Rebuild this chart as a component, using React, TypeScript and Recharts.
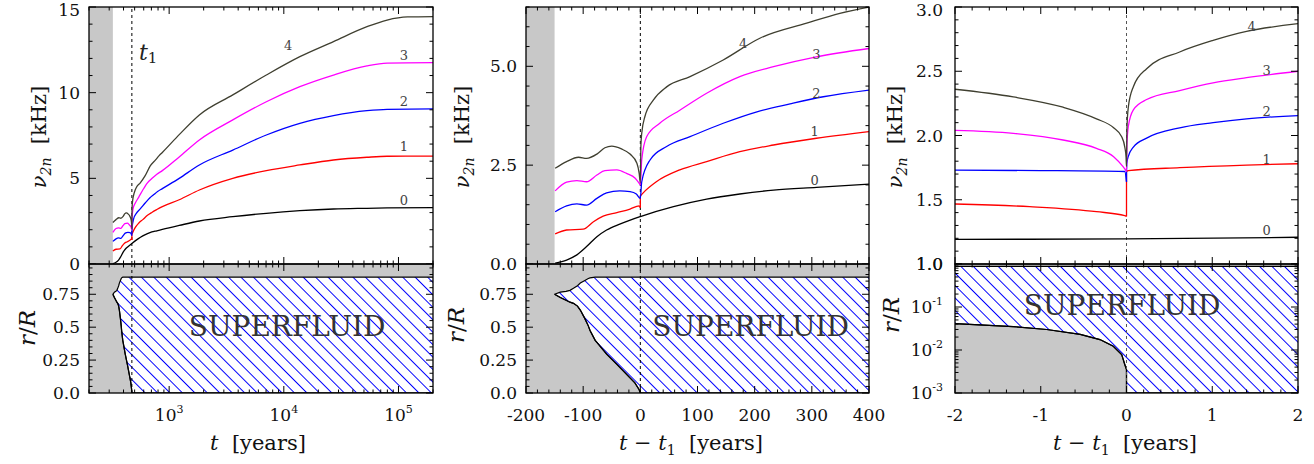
import {
  ComposedChart,
  Line,
  Area,
  XAxis,
  YAxis,
  CartesianGrid,
  ReferenceArea,
  ReferenceLine,
  ReferenceDot,
} from "recharts";

const SERIF = '"DejaVu Serif", serif';
const COLORS = ["#000000", "#ff0000", "#0000ff", "#ff00ff", "#3f3f30"];
const GRAY = "#c8c8c8";

// ---------- panel 1: nu_2n vs t [years], log axis ----------
const p1Mode0 = [[323, 0.02], [344, 0.1], [362, 0.23], [379, 0.44], [397, 0.69], [414, 0.86], [437, 1.01], [473, 1.2], [531, 1.45], [589, 1.64], [647, 1.77], [706, 1.87], [781, 1.94], [872, 2.02], [1224, 2.25], [1834, 2.51], [3590, 2.76], [7040, 2.96], [13800, 3.11], [27100, 3.21], [53100, 3.25], [79600, 3.27], [200000, 3.29]];
const p1Mode1 = [[323, 0.76], [344, 0.86], [373, 0.88], [391, 1.07], [408, 1.21], [432, 1.3], [455, 1.39], [471, 1.47], [473, 1.42], [473, 1.72], [478, 1.8], [501, 2.08], [542, 2.38], [589, 2.59], [647, 2.84], [706, 3.01], [781, 3.18], [872, 3.35], [1224, 3.75], [1834, 4.32], [3590, 5.0], [7040, 5.45], [13800, 5.78], [27100, 6.07], [53100, 6.23], [79600, 6.29], [200000, 6.3]];
const p1Mode2 = [[323, 1.32], [344, 1.47], [362, 1.52], [379, 1.49], [397, 1.66], [414, 1.8], [437, 1.85], [455, 1.83], [466, 1.77], [473, 1.66], [475, 2.08], [490, 2.63], [519, 2.97], [560, 3.22], [618, 3.56], [677, 3.85], [735, 4.05], [793, 4.23], [872, 4.4], [1224, 5.0], [1834, 5.78], [3590, 6.65], [7040, 7.53], [13800, 8.21], [27100, 8.66], [53100, 8.95], [79600, 9.03], [200000, 9.05]];
const p1Mode3 = [[323, 1.85], [344, 2.07], [362, 2.11], [379, 2.08], [397, 2.25], [411, 2.36], [432, 2.38], [449, 2.29], [464, 2.17], [471, 2.04], [473, 2.0], [475, 2.63], [484, 3.22], [507, 3.56], [542, 3.89], [589, 4.32], [647, 4.74], [706, 4.99], [781, 5.24], [872, 5.45], [1224, 6.25], [1834, 7.24], [3590, 8.41], [7040, 9.47], [13800, 10.35], [27100, 11.03], [53100, 11.56], [79600, 11.72], [200000, 11.75]];
const p1Mode4 = [[323, 2.42], [344, 2.59], [365, 2.7], [379, 2.67], [397, 2.78], [411, 2.94], [423, 2.98], [440, 2.91], [455, 2.78], [467, 2.55], [471, 2.29], [473, 2.05], [474, 3.0], [475, 3.3], [481, 3.73], [496, 4.15], [519, 4.48], [560, 4.74], [618, 5.16], [682, 5.71], [764, 6.09], [822, 6.34], [872, 6.51], [1224, 7.55], [1834, 8.7], [3590, 9.87], [7040, 11.03], [13800, 12.1], [27100, 12.98], [53100, 13.85], [79600, 14.24], [120000, 14.42], [200000, 14.44]];
const p1Labels = [[111500, 3.74, "0"], [111500, 6.89, "1"], [111500, 9.47, "2"], [111500, 12.2, "3"], [10900, 12.78, "4"]];

// ---------- panel 2: nu_2n vs t - t1 ----------
const p2Mode0 = [[-149, 0.02], [-129, 0.1], [-111, 0.23], [-94, 0.44], [-76, 0.69], [-59, 0.86], [-36, 1.01], [0, 1.2], [58, 1.45], [116, 1.64], [174, 1.77], [233, 1.87], [308, 1.94], [400, 2.02]];
const p2Mode1 = [[-149, 0.76], [-129, 0.86], [-100, 0.88], [-82, 1.07], [-65, 1.21], [-41, 1.3], [-18, 1.39], [-2, 1.47], [0, 1.42], [0, 1.72], [5, 1.8], [28, 2.08], [69, 2.38], [116, 2.59], [174, 2.84], [233, 3.01], [308, 3.18], [400, 3.35]];
const p2Mode2 = [[-149, 1.32], [-129, 1.47], [-111, 1.52], [-94, 1.49], [-76, 1.66], [-59, 1.8], [-36, 1.85], [-18, 1.83], [-7, 1.77], [0, 1.66], [2.4, 2.08], [17, 2.63], [46, 2.97], [87, 3.22], [145, 3.56], [204, 3.85], [262, 4.05], [320, 4.23], [400, 4.4]];
const p2Mode3 = [[-149, 1.85], [-129, 2.07], [-111, 2.11], [-94, 2.08], [-76, 2.25], [-62, 2.36], [-41, 2.38], [-24, 2.29], [-9, 2.17], [-2, 2.04], [0, 2.0], [2.4, 2.63], [11, 3.22], [34, 3.56], [69, 3.89], [116, 4.32], [174, 4.74], [233, 4.99], [308, 5.24], [400, 5.45]];
const p2Mode4 = [[-149, 2.42], [-129, 2.59], [-108, 2.7], [-94, 2.67], [-76, 2.78], [-62, 2.94], [-50, 2.98], [-33, 2.91], [-18, 2.78], [-6, 2.55], [-2, 2.29], [0, 2.05], [1, 3.0], [2.4, 3.3], [8, 3.73], [23, 4.15], [46, 4.48], [87, 4.74], [145, 5.16], [209, 5.71], [291, 6.09], [349, 6.34], [400, 6.5]];
const p2Labels = [[305, 2.12, "0"], [305, 3.35, "1"], [308, 4.32, "2"], [308, 5.3, "3"], [180, 5.58, "4"]];

// ---------- panel 3: zoom around t1 ----------
const p3Mode0 = [[-2, 1.192], [0, 1.195], [2, 1.208]];
const p3Mode1 = [[-2, 1.467], [-1.13, 1.446], [-0.35, 1.407], [-0.02, 1.376], [0, 1.37], [0, 1.72], [0.02, 1.726], [0.62, 1.75], [1.4, 1.77], [2, 1.78]];
const p3Mode2 = [[-2, 1.73], [-1, 1.727], [-0.02, 1.72], [0, 1.64], [0, 1.72], [0.005, 1.79], [0.02, 1.835], [0.08, 1.91], [0.235, 1.98], [0.62, 2.06], [1.01, 2.1], [1.4, 2.13], [2, 2.155]];
const p3Mode3 = [[-2, 2.04], [-1.32, 2.017], [-0.74, 1.965], [-0.35, 1.9], [-0.15, 1.835], [-0.04, 1.757], [-0.01, 1.73], [0, 1.72], [0.005, 1.93], [0.021, 2.07], [0.08, 2.2], [0.235, 2.28], [0.62, 2.35], [1.01, 2.41], [1.4, 2.45], [2, 2.5]];
const p3Mode4 = [[-2, 2.36], [-1.32, 2.3], [-0.74, 2.22], [-0.35, 2.13], [-0.15, 2.06], [-0.056, 1.99], [-0.02, 1.91], [-0.005, 1.83], [0, 1.76], [0.005, 2.05], [0.021, 2.22], [0.08, 2.38], [0.235, 2.52], [0.62, 2.65], [1.01, 2.74], [1.4, 2.81], [2, 2.87]];
const p3Labels = [[1.635, 1.265, "0"], [1.635, 1.815, "1"], [1.635, 2.185, "2"], [1.635, 2.51, "3"], [1.46, 2.85, "4"]];

// ---------- superfluid region r/R ----------
const p1SfT = [323, 333, 343, 350, 356, 363, 368, 376, 382, 385, 394, 397, 414, 432, 449, 463.5, 471, 473, 200000];
const sfDt = [-150, -140, -130, -123, -117, -110, -105, -97, -91, -88, -79, -76, -59, -41, -24, -9.5, -2, 0, 400];
const sfLow = [0.75, 0.725, 0.705, 0.69, 0.681, 0.66, 0.63, 0.565, 0.51, 0.475, 0.4, 0.385, 0.295, 0.218, 0.141, 0.077, 0.025, 0, 0];
const sfHigh = [0.75, 0.766, 0.772, 0.78, 0.795, 0.815, 0.835, 0.855, 0.87, 0.875, 0.88, 0.88, 0.88, 0.88, 0.88, 0.88, 0.88, 0.88, 0.88];
const p3SfDt = [-2, -1.32, -0.93, -0.54, -0.31, -0.154, -0.056, -0.02, 0, 0, 2];
const p3SfLow = [0.041, 0.035, 0.03, 0.023, 0.0175, 0.0122, 0.0078, 0.0046, 0.0035, 0.001, 0.001];
const p3SfHigh = [0.88, 0.88, 0.88, 0.88, 0.88, 0.88, 0.88, 0.88, 0.88, 0.88, 0.88];

// ---------- ticks ----------
const steps = (a: number, b: number, s: number) => {
  const out: number[] = [];
  for (let i = 0; a + i * s <= b + 1e-9; i++) out.push(+(a + i * s).toFixed(6));
  return out;
};
const p1XTicks = [200, 300, 400, 500, 600, 700, 800, 900, 1000, 2000, 3000, 4000, 5000, 6000, 7000, 8000, 9000, 10000, 20000, 30000, 40000, 50000, 60000, 70000, 80000, 90000, 100000, 200000];
const p1XMajors = [1000, 10000, 100000];
const p1XLabels = ["10^3", "10^4", "10^5"];
const p1YTicks = steps(0, 15, 1);
const p1YMajors = [0, 5, 10, 15];
const p1YLabels = ["0", "5", "10", "15"];
const p2XTicks = steps(-200, 400, 20);
const p2XMajors = [-200, -100, 0, 100, 200, 300, 400];
const p2XLabels = ["-200", "-100", "0", "100", "200", "300", "400"];
const p2YTicks = steps(0, 6.5, 0.5);
const p2YMajors = [0, 2.5, 5];
const p2YLabels = ["0.0", "2.5", "5.0"];
const p3XTicks = steps(-2, 2, 0.2);
const p3XMajors = [-2, -1, 0, 1, 2];
const p3XLabels = ["-2", "-1", "0", "1", "2"];
const p3YTicks = steps(1, 3, 0.1);
const p3YMajors = [1, 1.5, 2, 2.5, 3];
const p3YLabels = ["1.0", "1.5", "2.0", "2.5", "3.0"];
const sfYTicks = steps(0, 0.95, 0.05);
const sfYMajors = [0, 0.25, 0.5, 0.75];
const sfYLabels = ["0.0", "0.25", "0.5", "0.75"];
const p3SfYTicks = [0.001, 0.002, 0.003, 0.004, 0.005, 0.006, 0.007, 0.008, 0.009, 0.01, 0.02, 0.03, 0.04, 0.05, 0.06, 0.07, 0.08, 0.09, 0.1, 0.2, 0.3, 0.4, 0.5, 0.6, 0.7, 0.8, 0.9, 1];
const p3SfYMajors = [1, 0.1, 0.01, 0.001];
const p3SfYLabels = ["1.0", "10^-1", "10^-2", "10^-3"];

// column geometry (page px)
const cols = [
  { left: 0, width: 445, plotLeft: 89, plotW: 344, gap: 9 },
  { left: 440, width: 460, plotLeft: 526, plotW: 343, gap: 9 },
  { left: 880, width: 434, plotLeft: 955, plotW: 343, gap: 12 },
];
const YW = 60;

const findMajor = (majors: number[], v: number) =>
  majors.findIndex((m) => Math.abs(m - v) <= 1e-6 * Math.abs(m) + 1e-9);

function TickText({ x, y, anchor, text }: any) {
  const [base, sup] = text.split("^");
  return (
    <text x={x} y={y} textAnchor={anchor} fontFamily={SERIF} fontSize={17} fill="#111">
      {base}
      {sup && (
        <tspan dy={-8} fontSize={11}>
          {sup}
        </tspan>
      )}
    </text>
  );
}

function XTick({ x, y, payload, edge, majors, labels }: any) {
  const i = findMajor(majors, payload.value);
  const len = i >= 0 ? 7 : 3.5;
  return (
    <g>
      <line x1={x} y1={y} x2={x} y2={y - len} stroke="#000" strokeWidth={1} />
      <line x1={x} y1={edge} x2={x} y2={edge + len} stroke="#000" strokeWidth={1} />
      {i >= 0 && labels && labels[i] && <TickText x={x} y={y + 28} anchor="middle" text={labels[i]} />}
    </g>
  );
}

function YTick({ x, y, payload, width, majors, labels, gap, minBase }: any) {
  const i = findMajor(majors, payload.value);
  const len = i >= 0 ? 7 : 3.5;
  return (
    <g>
      <line x1={x} y1={y} x2={x + len} y2={y} stroke="#000" strokeWidth={1} />
      <line x1={x + width} y1={y} x2={x + width - len} y2={y} stroke="#000" strokeWidth={1} />
      {i >= 0 && <TickText x={x - gap} y={Math.max(y + 6, minBase || 0)} anchor="end" text={labels[i]} />}
    </g>
  );
}

const toPts = (c: number[][]) => c.map(([x, y]) => ({ x, y }));

// split a curve where x repeats (a jump) so each run can be smoothed
function runsOf(cv: number[][]) {
  const runs: number[][][] = [[]];
  cv.forEach((p, i) => {
    if (i > 0 && p[0] === cv[i - 1][0]) runs.push([]);
    runs[runs.length - 1].push(p);
  });
  return runs;
}

function curveLines(cv: number[][], color: string, key: string) {
  const runs = runsOf(cv);
  const out: any[] = [];
  runs.forEach((run, k) => {
    out.push(
      <Line key={key + "r" + k} data={toPts(run)} dataKey="y" type="monotone" stroke={color} strokeWidth={1.3} dot={false} activeDot={false} isAnimationActive={false} />
    );
    if (k > 0) {
      const jump = [runs[k - 1][runs[k - 1].length - 1], run[0]];
      out.push(
        <Line key={key + "j" + k} data={toPts(jump)} dataKey="y" type="linear" stroke={color} strokeWidth={1.3} dot={false} activeDot={false} isAnimationActive={false} />
      );
    }
  });
  return out;
}

function FreqPanel({ col, xScale, xDomain, xTicks, xMajors, yDomain, yTicks, yMajors, yLabels, curves, labels, gray, t1, dash }: any) {
  const c = cols[col];
  const ml = c.plotLeft - c.left - YW;
  const mr = c.width - (c.plotLeft - c.left) - c.plotW;
  return (
    <div style={{ position: "absolute", left: c.left, top: -10 }}>
      <ComposedChart width={c.width} height={290} margin={{ top: 17, right: mr, bottom: 0, left: ml }}>
        <XAxis
          dataKey="x"
          type="number"
          scale={xScale}
          domain={xDomain}
          ticks={xTicks}
          interval={0}
          allowDataOverflow
          height={16}
          axisLine={false}
          tickLine={false}
          tickSize={0}
          tickMargin={0}
          tick={(p: any) => <XTick {...p} edge={17} majors={xMajors} labels={null} />}
        />
        <YAxis
          type="number"
          domain={yDomain}
          ticks={yTicks}
          interval={0}
          allowDataOverflow
          width={YW}
          axisLine={false}
          tickLine={false}
          tickSize={0}
          tickMargin={0}
          tick={(p: any) => <YTick {...p} width={c.plotW} majors={yMajors} labels={yLabels} gap={c.gap} minBase={26} />}
        />
        {gray && (
          <ReferenceArea x1={gray[0]} x2={gray[1]} y1={yDomain[0]} y2={yDomain[1]} fill={GRAY} fillOpacity={1} stroke="none" />
        )}
        <ReferenceLine x={t1} stroke={dash} strokeDasharray="3 3" strokeWidth={1} />
        {curves.flatMap((cv: number[][], i: number) => curveLines(cv, COLORS[i], "c" + i))}
        {labels.map(([x, y, t]: any, i: number) => (
          <ReferenceDot
            key={"l" + i}
            x={x}
            y={y}
            r={0}
            fill="none"
            stroke="none"
            label={{ value: t, position: "center", fill: "#444", fontSize: 13, fontFamily: SERIF }}
          />
        ))}
      </ComposedChart>
    </div>
  );
}

function FluidPanel({ col, xScale, xDomain, xTicks, xMajors, xLabels, yScale, yDomain, yTicks, yMajors, yLabels, xs, lo, hi, t1, dash, textAt }: any) {
  const c = cols[col];
  const ml = c.plotLeft - c.left - YW;
  const mr = c.width - (c.plotLeft - c.left) - c.plotW;
  const id = "hatch" + col;
  const region = xs.map((x: number, i: number) => ({ x, r: [lo[i], hi[i]] }));
  const lower = xs.map((x: number, i: number) => ({ x, y: lo[i] }));
  return (
    <div style={{ position: "absolute", left: c.left, top: 254 }}>
      <ComposedChart width={c.width} height={210} margin={{ top: 10, right: mr, bottom: 0, left: ml }}>
        <defs>
          <pattern id={id} patternUnits="userSpaceOnUse" width={8.8} height={8.8} patternTransform="rotate(-45)">
            <rect width={8.8} height={8.8} fill="#ffffff" />
            <line x1={4.4} y1={0} x2={4.4} y2={8.8} stroke="#0000ff" strokeWidth={1} />
          </pattern>
        </defs>
        <CartesianGrid horizontal={false} vertical={false} fill={GRAY} stroke="none" />
        <XAxis
          dataKey="x"
          type="number"
          scale={xScale}
          domain={xDomain}
          ticks={xTicks}
          interval={0}
          allowDataOverflow
          height={71}
          axisLine={false}
          tickLine={false}
          tickSize={0}
          tickMargin={0}
          tick={(p: any) => <XTick {...p} edge={10} majors={xMajors} labels={xLabels} />}
        />
        <YAxis
          type="number"
          scale={yScale}
          domain={yDomain}
          ticks={yTicks}
          interval={0}
          allowDataOverflow
          width={YW}
          axisLine={false}
          tickLine={false}
          tickSize={0}
          tickMargin={0}
          tick={(p: any) => <YTick {...p} width={c.plotW} majors={yMajors} labels={yLabels} gap={c.gap} />}
        />
        <Area
          data={region}
          dataKey="r"
          type="linear"
          fill={`url(#${id})`}
          fillOpacity={1}
          stroke="#000"
          strokeWidth={1.2}
          dot={false}
          activeDot={false}
          isAnimationActive={false}
        />
        <Line data={lower} dataKey="y" type="linear" stroke="#000" strokeWidth={1.2} dot={false} activeDot={false} isAnimationActive={false} />
        <ReferenceLine x={t1} stroke={dash} strokeDasharray="3 3" strokeWidth={1} />
        <ReferenceDot
          x={textAt[0]}
          y={textAt[1]}
          r={0}
          fill="none"
          stroke="none"
          label={{ value: "SUPERFLUID", position: "center", fill: "#333", fontSize: 28, fontFamily: SERIF }}
        />
      </ComposedChart>
    </div>
  );
}

function NuTitle({ bx, cy }: { bx: number; cy: number }) {
  return (
    <text transform={`rotate(-90 ${bx} ${cy})`} x={bx} y={cy} textAnchor="middle" fontFamily={SERIF} fontSize={21} fill="#111">
      <tspan fontStyle="italic">ν</tspan>
      <tspan fontStyle="italic" fontSize={14} dy={5}>
        2n
      </tspan>
      <tspan dy={-5}>{"\u00a0\u00a0[kHz]"}</tspan>
    </text>
  );
}

function RTitle({ bx, cy }: { bx: number; cy: number }) {
  return (
    <text transform={`rotate(-90 ${bx} ${cy})`} x={bx} y={cy} textAnchor="middle" fontFamily={SERIF} fontSize={23} fill="#111">
      <tspan fontStyle="italic">r</tspan>/<tspan fontStyle="italic">R</tspan>
    </text>
  );
}

function DtTitle({ cx }: { cx: number }) {
  return (
    <text x={cx} y={450} textAnchor="middle" fontFamily={SERIF} fontSize={21} fill="#111">
      <tspan fontStyle="italic">t</tspan>
      {"\u00a0−\u00a0"}
      <tspan fontStyle="italic">t</tspan>
      <tspan fontSize={14} dy={5}>
        1
      </tspan>
      <tspan dy={-5}>{"\u00a0\u00a0[years]"}</tspan>
    </text>
  );
}

export default function App() {
  return (
    <div style={{ position: "absolute", left: 0, top: 0, width: 1314, height: 464, background: "#fff", fontFamily: SERIF, overflow: "hidden" }}>
      <FreqPanel
        col={0}
        xScale="log"
        xDomain={[200, 200000]}
        xTicks={p1XTicks}
        xMajors={p1XMajors}
        yDomain={[0, 15]}
        yTicks={p1YTicks}
        yMajors={p1YMajors}
        yLabels={p1YLabels}
        curves={[p1Mode0, p1Mode1, p1Mode2, p1Mode3, p1Mode4]}
        labels={p1Labels}
        gray={[200, 323]}
        t1={473}
        dash="#000"
      />
      <FreqPanel
        col={1}
        xScale="linear"
        xDomain={[-200, 400]}
        xTicks={p2XTicks}
        xMajors={p2XMajors}
        yDomain={[0, 6.5]}
        yTicks={p2YTicks}
        yMajors={p2YMajors}
        yLabels={p2YLabels}
        curves={[p2Mode0, p2Mode1, p2Mode2, p2Mode3, p2Mode4]}
        labels={p2Labels}
        gray={[-200, -150]}
        t1={0}
        dash="#000"
      />
      <FreqPanel
        col={2}
        xScale="linear"
        xDomain={[-2, 2]}
        xTicks={p3XTicks}
        xMajors={p3XMajors}
        yDomain={[1, 3]}
        yTicks={p3YTicks}
        yMajors={p3YMajors}
        yLabels={p3YLabels}
        curves={[p3Mode0, p3Mode1, p3Mode2, p3Mode3, p3Mode4]}
        labels={p3Labels}
        gray={null}
        t1={0}
        dash="#555"
      />
      <FluidPanel
        col={0}
        xScale="log"
        xDomain={[200, 200000]}
        xTicks={p1XTicks}
        xMajors={p1XMajors}
        xLabels={p1XLabels}
        yScale="linear"
        yDomain={[0, 0.98]}
        yTicks={sfYTicks}
        yMajors={sfYMajors}
        yLabels={sfYLabels}
        xs={p1SfT}
        lo={sfLow}
        hi={sfHigh}
        t1={473}
        dash="#000"
        textAt={[10700, 0.51]}
      />
      <FluidPanel
        col={1}
        xScale="linear"
        xDomain={[-200, 400]}
        xTicks={p2XTicks}
        xMajors={p2XMajors}
        xLabels={p2XLabels}
        yScale="linear"
        yDomain={[0, 0.98]}
        yTicks={sfYTicks}
        yMajors={sfYMajors}
        yLabels={sfYLabels}
        xs={sfDt}
        lo={sfLow}
        hi={sfHigh}
        t1={0}
        dash="#000"
        textAt={[193, 0.51]}
      />
      <FluidPanel
        col={2}
        xScale="linear"
        xDomain={[-2, 2]}
        xTicks={p3XTicks}
        xMajors={p3XMajors}
        xLabels={p3XLabels}
        yScale="log"
        yDomain={[0.001, 1]}
        yTicks={p3SfYTicks}
        yMajors={p3SfYMajors}
        yLabels={p3SfYLabels}
        xs={p3SfDt}
        lo={p3SfLow}
        hi={p3SfHigh}
        t1={0}
        dash="#555"
        textAt={[-0.05, 0.111]}
      />
      <svg width={1314} height={464} style={{ position: "absolute", left: 0, top: 0, pointerEvents: "none" }}>
        {cols.map((c, i) => (
          <g key={i} fill="none" stroke="#000" strokeWidth={1.3}>
            <rect x={c.plotLeft} y={7} width={c.plotW} height={257} />
            <rect x={c.plotLeft} y={264} width={c.plotW} height={129} />
          </g>
        ))}
        <NuTitle bx={46} cy={137} />
        <NuTitle bx={469} cy={137} />
        <NuTitle bx={902} cy={137} />
        <RTitle bx={35} cy={328} />
        <RTitle bx={464} cy={325} />
        <RTitle bx={899} cy={315} />
        <text x={258} y={450} textAnchor="middle" fontFamily={SERIF} fontSize={21} fill="#111">
          <tspan fontStyle="italic">t</tspan>
          {"\u00a0\u00a0[years]"}
        </text>
        <DtTitle cx={691} />
        <DtTitle cx={1125} />
        <text x={139} y={60} fontFamily={SERIF} fontSize={22} fill="#222">
          <tspan fontStyle="italic">t</tspan>
          <tspan fontSize={15} dy={3}>
            1
          </tspan>
        </text>
      </svg>
    </div>
  );
}
